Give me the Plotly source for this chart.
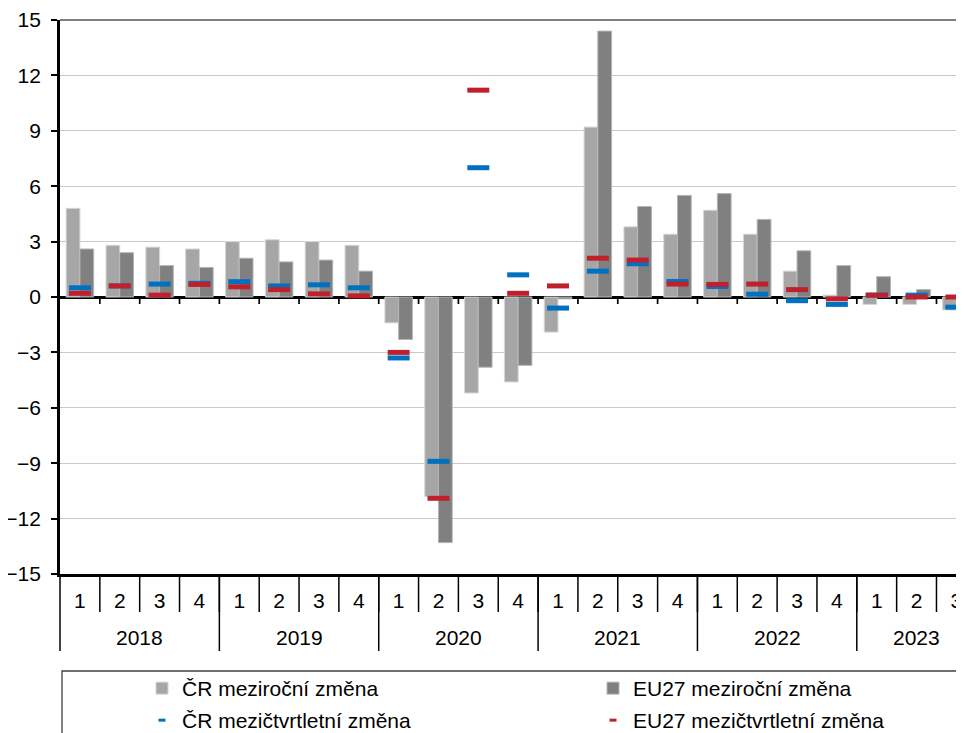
import plotly.graph_objects as go

# ---- data -------------------------------------------------------------
years = ["2018", "2019", "2020", "2021", "2022", "2023"]
quarters_in_year = [4, 4, 4, 4, 4, 3]
quarter_labels = ["1", "2", "3", "4"] * 5 + ["1", "2", "3"]

cz_yoy = [4.8, 2.8, 2.7, 2.6, 3.0, 3.1, 3.0, 2.8,
          -1.4, -10.8, -5.2, -4.6, -1.9, 9.2, 3.8, 3.4,
          4.7, 3.4, 1.4, 0.1, -0.4, -0.4, -0.7]
eu_yoy = [2.6, 2.4, 1.7, 1.6, 2.1, 1.9, 2.0, 1.4,
          -2.3, -13.3, -3.8, -3.7, -0.1, 14.4, 4.9, 5.5,
          5.6, 4.2, 2.5, 1.7, 1.1, 0.4, 0.1]
cz_qoq = [0.5, 0.6, 0.7, 0.74, 0.83, 0.6, 0.66, 0.5,
          -3.3, -8.9, 7.0, 1.2, -0.6, 1.4, 1.8, 0.84,
          0.57, 0.15, -0.2, -0.4, 0.1, 0.1, -0.55]
eu_qoq = [0.2, 0.6, 0.1, 0.68, 0.55, 0.4, 0.17, 0.06,
          -3.0, -10.9, 11.2, 0.2, 0.6, 2.1, 2.0, 0.7,
          0.68, 0.7, 0.4, -0.1, 0.1, 0.0, 0.0]

series_names = ["ČR meziroční změna", "EU27 meziroční změna",
                "ČR mezičtvrtletní změna", "EU27 mezičtvrtletní změna"]

# ---- styling ------------------------------------------------------------
FONT = "Liberation Sans, Arial, sans-serif"
FS = 21
LIGHT = "#A6A6A6"
DARK = "#808080"
BLUE = "#0070C0"
RED = "#C0202C"

PAGE_OFF = 8                      # default body margin of the html page
W, H = 964 - PAGE_OFF, 733 - PAGE_OFF
ML, MR, MT = 60 - PAGE_OFF, 0, 20 - PAGE_OFF
PLOT_BOTTOM = 574                 # screen y of the -15 line
MB = (H + PAGE_OFF) - PLOT_BOTTOM
plot_w = W - ML - MR
plot_h = H - MT - MB
cat_px = 39.84
n = len(quarter_labels)
x = list(range(n))
x_lo = -0.5
x_hi = x_lo + plot_w / cat_px


def py(screen_y):
    return (PLOT_BOTTOM - screen_y) / plot_h


def px(screen_x):
    return (screen_x - (ML + PAGE_OFF)) / plot_w


def xp(v):
    return (v - x_lo) / (x_hi - x_lo)


fig = go.Figure()
fig.add_trace(go.Bar(x=x, y=cz_yoy, name=series_names[0], legend="legend",
                     marker=dict(color=LIGHT, line=dict(color="#D6D6D6", width=1))))
fig.add_trace(go.Bar(x=x, y=eu_yoy, name=series_names[1], legend="legend",
                     marker=dict(color=DARK, line=dict(color="#B4B4B4", width=1))))
fig.add_trace(go.Scatter(x=x, y=cz_qoq, mode="markers", name=series_names[2],
                         legendgroup="czq", showlegend=False,
                         marker=dict(symbol="line-ew", size=15.7, color=BLUE,
                                     line=dict(color=BLUE, width=5))))
fig.add_trace(go.Scatter(x=x, y=eu_qoq, mode="markers", name=series_names[3],
                         legendgroup="euq", showlegend=False,
                         marker=dict(symbol="line-ew", size=15.7, color=RED,
                                     line=dict(color=RED, width=5))))
# legend entries for the dash series (small dash symbol as in the original)
fig.add_trace(go.Scatter(x=[None], y=[None], mode="markers", name=series_names[2],
                         legendgroup="czq", legend="legend2",
                         marker=dict(symbol="line-ew", size=5, color=BLUE,
                                     line=dict(color=BLUE, width=3))))
fig.add_trace(go.Scatter(x=[None], y=[None], mode="markers", name=series_names[3],
                         legendgroup="euq", legend="legend2",
                         marker=dict(symbol="line-ew", size=5, color=RED,
                                     line=dict(color=RED, width=3))))

shapes = []
# tick marks below the zero line at category boundaries
for i in range(n - 1):
    shapes.append(dict(type="line", xref="x", yref="y", x0=i + 0.5, x1=i + 0.5,
                       ysizemode="pixel", yanchor=0, y0=0, y1=-7,
                       line=dict(color="black", width=1.7)))
# quarter separators below the bottom axis
for i in range(n):
    b = i + 0.5
    shapes.append(dict(type="line", xref="paper", yref="paper", x0=xp(b), x1=xp(b),
                       ysizemode="pixel", yanchor=0, y0=0, y1=-38,
                       line=dict(color="black", width=1.5)))
# year separators
starts = []
s = 0
for q in quarters_in_year:
    starts.append(s)
    s += q
for st in starts + [s]:
    b = st - 0.5
    shapes.append(dict(type="line", xref="paper", yref="paper", x0=xp(b), x1=xp(b),
                       ysizemode="pixel", yanchor=0, y0=0, y1=-77,
                       line=dict(color="black", width=1.5)))
# top border
shapes.append(dict(type="line", xref="paper", yref="paper", x0=0, x1=1, y0=1, y1=1,
                   line=dict(color="black", width=1.2)))
# legend frame
shapes.append(dict(type="rect", xref="paper", yref="paper",
                   x0=px(62), x1=1.1, y0=py(671), y1=-0.5,
                   line=dict(color="#404040", width=1.3), fillcolor="rgba(0,0,0,0)"))

annotations = []
for yr, st, q in zip(years, starts, quarters_in_year):
    annotations.append(dict(text=yr, xref="x", yref="paper", x=st + (q - 1) / 2,
                            y=py(637.5), yanchor="middle",
                            xanchor="center", showarrow=False,
                            font=dict(family=FONT, size=FS, color="black")))

legend_common = dict(orientation="h", xanchor="left", yanchor="top",
                     entrywidth=406, entrywidthmode="pixels",
                     font=dict(family=FONT, size=FS, color="black"),
                     bgcolor="rgba(0,0,0,0)", borderwidth=0, traceorder="normal")

fig.update_layout(
    width=W, height=H, autosize=False,
    margin=dict(l=ML, r=MR, t=MT, b=MB, autoexpand=False),
    paper_bgcolor="white", plot_bgcolor="white",
    font=dict(family=FONT, size=FS, color="black"),
    barmode="group", bargap=0.31, bargroupgap=0,
    showlegend=True,
    legend=dict(x=px(142), y=py(668), **legend_common),
    legend2=dict(x=px(142), y=py(700), **legend_common),
    shapes=shapes,
    annotations=annotations,
)

fig.update_xaxes(range=[x_lo, x_hi], tickmode="array", tickvals=x, ticktext=quarter_labels,
                 ticks="", showgrid=False, zeroline=False,
                 showline=True, linecolor="black", linewidth=2.7,
                 tickfont=dict(family=FONT, size=FS, color="black"),
                 ticklabelstandoff=6)
fig.update_yaxes(range=[-15, 15], tickmode="linear", tick0=-15, dtick=3,
                 ticks="outside", ticklen=6, tickwidth=1.5, tickcolor="black",
                 showgrid=True, gridcolor="#C9C9C9", gridwidth=1.3,
                 zeroline=True, zerolinecolor="black", zerolinewidth=2.7,
                 showline=True, linecolor="black", linewidth=2.7,
                 tickfont=dict(family=FONT, size=FS, color="black"),
                 ticklabelstandoff=6)

fig.write_html("out.html")
